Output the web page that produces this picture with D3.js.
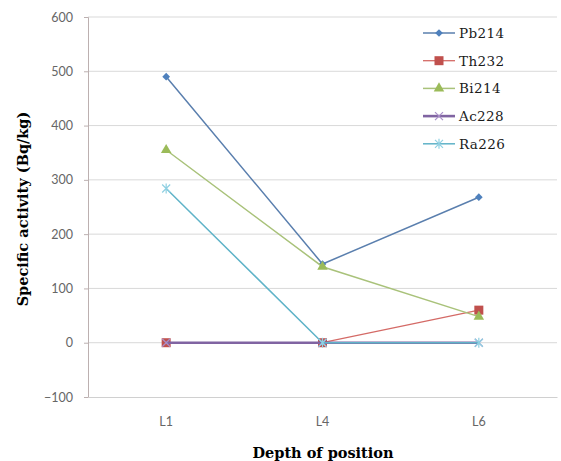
<!DOCTYPE html>
<html><head><meta charset="utf-8">
<script src="https://cdn.jsdelivr.net/npm/d3@7"></script>
<style>body{margin:0;background:#fff}</style>
</head><body>
<svg id="c" width="561" height="461"></svg>
<script>
const categories = ["L1", "L4", "L6"];
const pb214 = [490, 145, 268];
const th232 = [0, 0, 60];
const bi214 = [355, 140, 48];
const ac228 = [0, 0, 0];
const ra226 = [284, 0, 0];
const yTicks = [-100, 0, 100, 200, 300, 400, 500, 600];
const seriesNames = ["Pb214", "Th232", "Bi214", "Ac228", "Ra226"];

const series = [
  {name: seriesNames[0], values: pb214, color: "#4f81bd", line: "#5a7fae", w: 1.5, sym: "diamond"},
  {name: seriesNames[1], values: th232, color: "#c0504d", line: "#d46a66", w: 1.3, sym: "square"},
  {name: seriesNames[2], values: bi214, color: "#9bbb59", line: "#a9c27a", w: 1.5, sym: "triangle"},
  {name: seriesNames[3], values: ac228, color: "#8064a2", line: "#8064a2", w: 2.6, sym: "x"},
  {name: seriesNames[4], values: ra226, color: "#4bacc6", line: "#5fb3c8", w: 1.5, sym: "star"}
];

const svg = d3.select("#c");
const pL = 88, pR = 557, pT = 17, pB = 397;
const x = d3.scaleBand().domain(categories).range([pL, pR]);
const y = d3.scaleLinear().domain([-100, 600]).range([pB, pT]);
const cx = d => x(d) + x.bandwidth() / 2;
const serif = "'DejaVu Serif', 'Liberation Serif', serif";

// gridlines
svg.append("g").selectAll("line").data(yTicks.filter(t => t !== -100)).join("line")
  .attr("x1", pL).attr("x2", pR)
  .attr("y1", d => y(d)).attr("y2", d => y(d))
  .attr("stroke", "#d9d9d9").attr("stroke-width", 1);

// y axis
const ya = svg.append("g").attr("transform", `translate(${pL},0)`)
  .call(d3.axisLeft(y).tickValues(yTicks).tickSize(4).tickPadding(11));
ya.select(".domain").attr("stroke", "#bcb0b0");
ya.selectAll(".tick line").attr("stroke", "#bcb0b0");
ya.selectAll("text").attr("fill", "#666").attr("font-family", "Lato, 'Open Sans', sans-serif").attr("font-size", 12.5);

// x axis
const xa = svg.append("g").attr("transform", `translate(0,${pB})`)
  .call(d3.axisBottom(x).tickSize(0).tickPadding(20));
xa.select(".domain").attr("stroke", "#d0d0d0");
xa.selectAll("text").attr("fill", "#666").attr("font-family", "Lato, 'Open Sans', sans-serif").attr("font-size", 12.5);

// titles
svg.append("text").attr("x", 323).attr("y", 458).attr("text-anchor", "middle")
  .attr("font-family", serif).attr("font-weight", "bold").attr("font-size", 14.5)
  .attr("fill", "#000").text("Depth of position");
svg.append("text").attr("transform", "translate(28,209) rotate(-90)").attr("text-anchor", "middle")
  .attr("font-family", serif).attr("font-weight", "bold").attr("font-size", 14.5)
  .attr("fill", "#000").text("Specific activity (Bq/kg)");

function marker(g, sym, color, px, py) {
  if (sym === "diamond") {
    g.append("path").attr("d", d3.symbol().type(d3.symbolSquare).size(30)())
      .attr("transform", `translate(${px},${py}) rotate(45)`).attr("fill", color);
  } else if (sym === "square") {
    g.append("rect").attr("x", px - 4.5).attr("y", py - 4.5).attr("width", 9).attr("height", 9).attr("fill", color);
  } else if (sym === "triangle") {
    g.append("path").attr("d", d3.symbol().type(d3.symbolTriangle).size(48)())
      .attr("transform", `translate(${px},${py})`).attr("fill", color);
  } else if (sym === "x") {
    g.append("path").attr("d", `M${px-4},${py-4}L${px+4},${py+4}M${px-4},${py+4}L${px+4},${py-4}`)
      .attr("stroke", "#a98fc8").attr("stroke-width", 1.2).attr("fill", "none");
  } else if (sym === "star") {
    g.append("path").attr("d", `M${px-4},${py-4}L${px+4},${py+4}M${px-4},${py+4}L${px+4},${py-4}M${px},${py-5}L${px},${py+5}`)
      .attr("stroke", "#8fd0e2").attr("stroke-width", 1.2).attr("fill", "none");
  }
}

const line = d3.line().x((d, i) => cx(categories[i])).y(d => y(d));
series.forEach(s => {
  const g = svg.append("g");
  g.append("path").datum(s.values).attr("d", line).attr("fill", "none")
    .attr("stroke", s.line).attr("stroke-width", s.w);
  s.values.forEach((v, i) => marker(g, s.sym, s.color, cx(categories[i]), y(v)));
});

// legend
const lg = svg.append("g");
series.forEach((s, i) => {
  const ly = 33 + i * 27.7;
  lg.append("line").attr("x1", 423).attr("x2", 455).attr("y1", ly).attr("y2", ly)
    .attr("stroke", s.line).attr("stroke-width", s.w);
  marker(lg, s.sym, s.color, 439, ly);
  lg.append("text").attr("x", 459).attr("y", ly + 5)
    .attr("font-family", serif).attr("font-size", 13.5)
    .attr("letter-spacing", 0.4).attr("fill", "#1a1a1a").text(s.name);
});
</script>
</body></html>
